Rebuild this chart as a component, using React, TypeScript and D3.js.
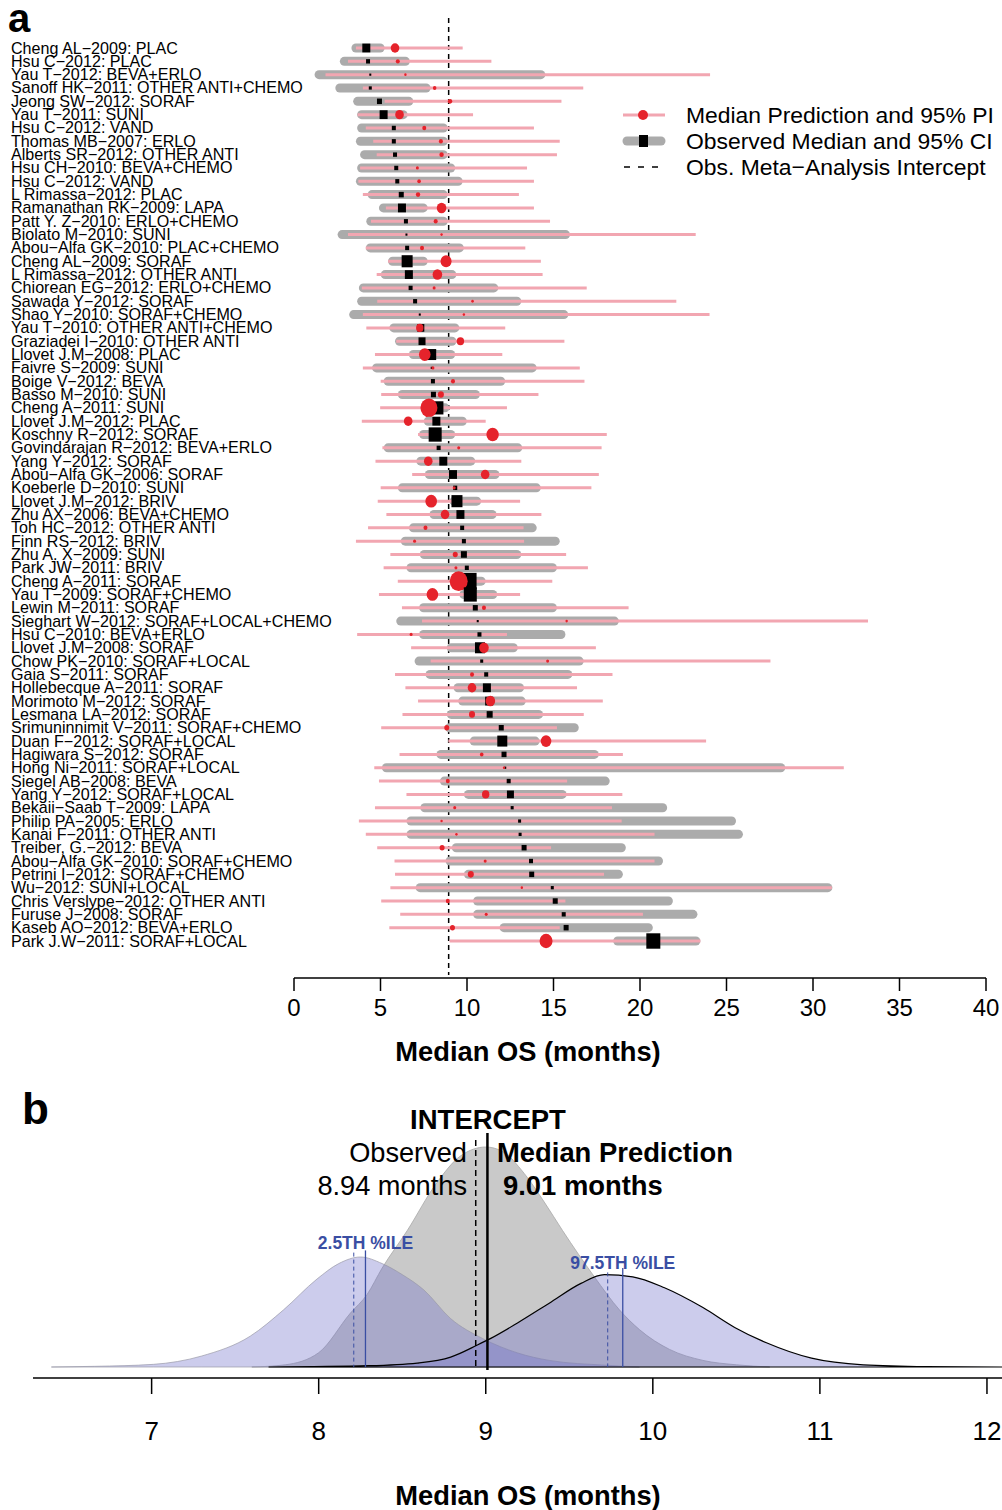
import * as d3 from "d3";

// panel a: one row per study (top to bottom)
const studies = [
  "Cheng AL−2009: PLAC", "Hsu C−2012: PLAC", "Yau T−2012: BEVA+ERLO", "Sanoff HK−2011: OTHER ANTI+CHEMO",
  "Jeong SW−2012: SORAF", "Yau T−2011: SUNI", "Hsu C−2012: VAND", "Thomas MB−2007: ERLO",
  "Alberts SR−2012: OTHER ANTI", "Hsu CH−2010: BEVA+CHEMO", "Hsu C−2012: VAND", "L Rimassa−2012: PLAC",
  "Ramanathan RK−2009: LAPA", "Patt Y. Z−2010: ERLO+CHEMO", "Biolato M−2010: SUNI", "Abou−Alfa GK−2010: PLAC+CHEMO",
  "Cheng AL−2009: SORAF", "L Rimassa−2012: OTHER ANTI", "Chiorean EG−2012: ERLO+CHEMO", "Sawada Y−2012: SORAF",
  "Shao Y−2010: SORAF+CHEMO", "Yau T−2010: OTHER ANTI+CHEMO", "Graziadei I−2010: OTHER ANTI", "Llovet J.M−2008: PLAC",
  "Faivre S−2009: SUNI", "Boige V−2012: BEVA", "Basso M−2010: SUNI", "Cheng A−2011: SUNI",
  "Llovet J.M−2012: PLAC", "Koschny R−2012: SORAF", "Govindarajan R−2012: BEVA+ERLO", "Yang Y−2012: SORAF",
  "Abou−Alfa GK−2006: SORAF", "Koeberle D−2010: SUNI", "Llovet J.M−2012: BRIV", "Zhu AX−2006: BEVA+CHEMO",
  "Toh HC−2012: OTHER ANTI", "Finn RS−2012: BRIV", "Zhu A. X−2009: SUNI", "Park JW−2011: BRIV",
  "Cheng A−2011: SORAF", "Yau T−2009: SORAF+CHEMO", "Lewin M−2011: SORAF", "Sieghart W−2012: SORAF+LOCAL+CHEMO",
  "Hsu C−2010: BEVA+ERLO", "Llovet J.M−2008: SORAF", "Chow PK−2010: SORAF+LOCAL", "Gaia S−2011: SORAF",
  "Hollebecque A−2011: SORAF", "Morimoto M−2012: SORAF", "Lesmana LA−2012: SORAF", "Srimuninnimit V−2011: SORAF+CHEMO",
  "Duan F−2012: SORAF+LOCAL", "Hagiwara S−2012: SORAF", "Hong Ni−2011: SORAF+LOCAL", "Siegel AB−2008: BEVA",
  "Yang Y−2012: SORAF+LOCAL", "Bekaii−Saab T−2009: LAPA", "Philip PA−2005: ERLO", "Kanai F−2011: OTHER ANTI",
  "Treiber, G.−2012: BEVA", "Abou−Alfa GK−2010: SORAF+CHEMO", "Petrini I−2012: SORAF+CHEMO", "Wu−2012: SUNI+LOCAL",
  "Chris Verslype−2012: OTHER ANTI", "Furuse J−2008: SORAF", "Kaseb AO−2012: BEVA+ERLO", "Park J.W−2011: SORAF+LOCAL",
];

const obsMedian = [
  4.18, 4.28, 4.41, 4.41, 4.94, 5.18, 5.77, 5.77, 5.84, 5.91, 5.97, 6.2, 6.24, 6.47, 6.5, 6.54, 6.54, 6.64,
  6.74, 7.0, 7.27, 7.33, 7.4, 7.93, 7.96, 8.03, 8.06, 8.29, 8.23, 8.16, 8.36, 8.63, 9.19, 9.32, 9.42, 9.62,
  9.72, 9.82, 9.82, 9.99, 10.12, 10.19, 10.48, 10.62, 10.72, 10.75, 10.85, 11.11, 11.15, 11.28, 11.31, 11.98,
  12.04, 12.14, 12.21, 12.41, 12.51, 12.61, 13.04, 13.07, 13.3, 13.7, 13.74, 14.93, 15.1, 15.59, 15.73, 20.77,
];
const ciLow = [
  3.32, 2.65, 1.19, 2.39, 3.42, 3.65, 3.65, 3.58, 3.82, 3.65, 3.58, 4.25, 4.91, 4.18, 2.52, 4.15, 5.44, 5.01,
  3.75, 3.65, 3.19, 5.51, 5.84, 6.64, 4.51, 5.18, 6.0, 7.4, 7.5, 7.23, 5.18, 7.07, 7.56, 6.0, 8.99, 7.83,
  6.64, 6.17, 7.27, 6.5, 9.39, 9.56, 7.23, 5.91, 7.23, 8.83, 6.97, 7.6, 9.22, 9.49, 8.83, 8.73,
  10.15, 8.23, 5.08, 8.43, 9.82, 7.3, 6.5, 6.5, 9.12, 8.76, 9.82, 7.03, 10.35, 10.35, 11.88, 18.45,
];
const ciHigh = [
  5.24, 6.7, 14.53, 7.9, 6.9, 6.57, 8.89, 8.89, 8.89, 9.32, 9.75, 8.89, 7.73, 8.89, 15.96, 9.82, 7.73, 9.39,
  11.81, 13.14, 15.86, 9.56, 9.39, 9.32, 14.03, 12.21, 10.75, 8.99, 9.99, 9.32, 13.2, 10.48, 11.88, 14.27, 10.82, 11.71,
  14.03, 15.36, 13.14, 15.2, 11.08, 11.75, 15.2, 18.78, 15.69, 12.94, 16.75, 16.09, 13.3, 13.4, 14.4, 16.46,
  14.2, 17.62, 28.4, 18.25, 15.76, 21.57, 25.55, 25.95, 19.18, 21.33, 19.01, 31.12, 21.9, 23.32, 20.74, 23.49,
];
const predMedian = [
  5.84, 6.0, 6.44, 8.13, 9.02, 6.1, 7.53, 8.49, 8.53, 7.13, 7.23, 7.17, 8.53, 8.19, 8.53, 7.4, 8.79, 8.29,
  8.1, 10.32, 9.82, 7.27, 9.62, 7.56, 8.03, 9.19, 8.49, 7.8, 6.6, 11.48, 9.52, 7.76, 11.05, 9.26, 7.93, 8.73,
  7.6, 6.97, 9.32, 9.36, 9.52, 8.0, 10.98, 15.76, 6.77, 10.98, 14.66, 10.29, 10.29, 11.35, 10.29, 8.83,
  14.57, 10.85, 12.14, 8.89, 11.08, 9.29, 8.53, 9.39, 8.56, 11.05, 10.22, 13.17, 8.89, 11.11, 9.16, 14.57,
];
const piLow = [
  3.58, 3.12, 1.82, 3.98, 5.24, 3.68, 4.15, 4.58, 4.78, 3.82, 3.72, 3.98, 5.31, 4.45, 3.12, 4.15, 5.44, 4.78,
  3.92, 4.81, 3.98, 4.18, 5.91, 4.68, 3.98, 5.01, 5.04, 4.98, 3.92, 7.17, 5.11, 4.71, 6.83, 5.01, 4.84, 5.34,
  4.28, 3.58, 5.57, 5.18, 6.0, 4.91, 6.24, 7.4, 3.65, 6.77, 7.9, 5.84, 6.44, 7.17, 6.27, 5.04,
  8.92, 6.1, 4.64, 4.91, 6.5, 4.68, 3.75, 4.15, 4.81, 5.81, 5.84, 5.57, 5.04, 6.14, 5.51, 8.99,
];
const piHigh = [
  9.75, 11.41, 24.05, 16.72, 15.46, 10.35, 13.87, 15.36, 15.2, 13.47, 13.87, 13.0, 13.87, 14.8, 23.22, 13.37, 14.27, 14.37,
  16.92, 22.1, 24.02, 12.21, 15.63, 12.04, 16.52, 16.79, 14.13, 12.31, 11.08, 18.08, 17.78, 13.14, 17.62, 17.19, 13.07, 14.3,
  13.27, 13.3, 15.73, 16.99, 14.93, 13.07, 19.34, 33.18, 12.31, 17.45, 27.54, 18.41, 16.36, 17.85, 16.75, 15.2,
  23.82, 19.01, 31.78, 15.79, 18.98, 18.38, 18.94, 20.84, 14.86, 20.84, 17.92, 31.09, 15.69, 20.17, 15.36, 23.49,
];
// study weights (marker sizes)
const obsWeight = [
  8, 4, 2, 3, 5, 8, 4, 4, 4, 4, 4, 5, 8, 4, 2, 4, 11, 8, 4, 4, 2, 7, 7, 10, 2, 4, 5, 12, 8, 13, 4, 8, 8, 4,
  11, 8, 4, 4, 6, 4, 15, 13, 5, 2, 4, 10, 3, 4, 8, 8, 6, 5, 10, 5, 2, 4, 7, 3, 3, 3, 5, 4, 5, 3, 5, 4, 5, 14,
];
const predWeight = [
  4.3, 2, 1.2, 1.8, 2.2, 4.3, 2, 2, 2.2, 1.5, 1.8, 2.2, 4.8, 2, 1.2, 2, 5.5, 4.8, 1.5, 1.3, 1.2, 3.7, 3.7, 5.8,
  1.5, 2, 3, 8.5, 4.3, 6.2, 1.5, 4.3, 4.3, 1.5, 5.8, 4.3, 2, 1.5, 2.5, 1.5, 9, 5.8, 2, 1.2, 1.5, 4.8, 1.5, 2, 4.3, 4.8,
  3, 2.5, 5.3, 1.8, 1.2, 2, 3.7, 1.5, 1.2, 1.2, 2.5, 1.5, 3, 1.2, 2, 1.5, 2.5, 6.5,
];
const metaIntercept = 8.94;
const xTicksA = [0, 5, 10, 15, 20, 25, 30, 35, 40];

// panel b: posterior densities of the intercept, [months, density]
const interceptDensity = [
  [7.6, 0], [7.8, 0.01], [8.0, 0.065], [8.19, 0.245], [8.29, 0.33], [8.38, 0.45], [8.53, 0.62], [8.7, 0.83],
  [8.85, 0.96], [9.0, 1.0], [9.1, 0.98], [9.23, 0.88], [9.35, 0.75], [9.46, 0.62], [9.65, 0.41], [9.8, 0.26],
  [9.92, 0.17], [10.1, 0.08], [10.3, 0.03], [10.5, 0.01], [10.7, 0],
];
const lowPctDensity = [
  [6.4, 0], [6.66, 0.003], [7.01, 0.012], [7.3, 0.05], [7.59, 0.14], [7.79, 0.26], [7.99, 0.4], [8.12, 0.47],
  [8.25, 0.5], [8.38, 0.47], [8.5, 0.42], [8.63, 0.35], [8.79, 0.22], [8.98, 0.13], [9.19, 0.064], [9.38, 0.03],
  [9.72, 0.008], [9.92, 0],
];
const highPctDensity = [
  [7.7, 0], [8.3, 0.006], [8.59, 0.018], [8.79, 0.045], [8.95, 0.1], [9.03, 0.13], [9.19, 0.2], [9.38, 0.29],
  [9.57, 0.38], [9.71, 0.42], [9.88, 0.41], [10.07, 0.36], [10.3, 0.27], [10.49, 0.18], [10.68, 0.11],
  [10.95, 0.04], [11.26, 0.01], [11.64, 0.002], [12.09, 0],
];
const obsInterceptB = 8.94;
const predInterceptB = 9.01;
const lowPct = { obs: 8.21, pred: 8.28 };
const highPct = { obs: 9.73, pred: 9.82 };
const xTicksB = [7, 8, 9, 10, 11, 12];

const FONT = "'Liberation Sans', Arial, Helvetica, sans-serif";
const GRAY = "#ababab";
const PINK = "#f2a6b1";
const RED = "#e5232b";
const BLUE = "#3a4ea3";
const LAVENDER = "rgba(110,110,200,0.35)";

export default function App() {
  const xa = d3.scaleLinear().domain([0, 40]).range([294, 986]);
  const ya = d3.scalePoint<number>().domain(d3.range(studies.length)).range([48, 941]);

  const xb = d3.scaleLinear().domain([6.29, 12.09]).range([33, 1002]);
  const yb = d3.scaleLinear().domain([0, 1]).range([1367, 1147]);
  const area = d3
    .area<number[]>()
    .x((d) => xb(d[0]))
    .y0(yb(0))
    .y1((d) => yb(d[1]))
    .curve(d3.curveMonotoneX);

  return (
    <svg
      width={1002}
      height={1510}
      style={{ position: "absolute", left: 0, top: 0, background: "#fff" }}
      fontFamily={FONT}
    >
      {/* panel a */}
      <text x={8} y={32} fontSize={40} fontWeight="bold">a</text>

      <line x1={xa(metaIntercept)} x2={xa(metaIntercept)} y1={18} y2={975} stroke="#000" strokeWidth={1.5} strokeDasharray="5,4" />

      {studies.map((name, i) => {
        const y = ya(i)!;
        const s = obsWeight[i];
        return (
          <g key={i}>
            <text x={11} y={y + 5.5} fontSize={16.1}>{name}</text>
            <rect x={xa(ciLow[i])} y={y - 4.5} width={xa(ciHigh[i]) - xa(ciLow[i])} height={9} rx={4.5} fill={GRAY} />
            <line x1={xa(piLow[i])} x2={xa(piHigh[i])} y1={y} y2={y} stroke={PINK} strokeWidth={3} />
            <rect x={xa(obsMedian[i]) - s / 2} y={y - s * 0.55} width={s} height={s * 1.1} fill="#000" />
            <ellipse cx={xa(predMedian[i])} cy={y} rx={predWeight[i]} ry={predWeight[i] * 1.1} fill={RED} />
          </g>
        );
      })}

      {/* legend */}
      <g fontSize={22.9}>
        <line x1={623} x2={665} y1={115} y2={115} stroke={PINK} strokeWidth={3} />
        <circle cx={643} cy={115} r={5} fill={RED} />
        <text x={686} y={123}>Median Prediction and 95% PI</text>
        <line x1={627} x2={661} y1={141} y2={141} stroke={GRAY} strokeWidth={9} strokeLinecap="round" />
        <rect x={639} y={135} width={9} height={12} fill="#000" />
        <text x={686} y={149}>Observed Median and 95% CI</text>
        <line x1={624} x2={662} y1={167} y2={167} stroke="#000" strokeWidth={1.5} strokeDasharray="6,8" />
        <text x={686} y={175}>Obs. Meta−Analysis Intercept</text>
      </g>

      {/* axis a */}
      <line x1={xa(0)} x2={xa(40)} y1={978} y2={978} stroke="#000" strokeWidth={1.5} />
      {xTicksA.map((t) => (
        <g key={t}>
          <line x1={xa(t)} x2={xa(t)} y1={978} y2={991} stroke="#000" strokeWidth={1.5} />
          <text x={xa(t)} y={1016} fontSize={24} textAnchor="middle">{t}</text>
        </g>
      ))}
      <text x={528} y={1061} fontSize={27.3} fontWeight="bold" textAnchor="middle">Median OS (months)</text>

      {/* panel b */}
      <text x={22} y={1124} fontSize={44} fontWeight="bold">b</text>

      <path d={area(interceptDensity)!} fill="#c9c9c9" stroke="#a8a8a8" strokeWidth={0.8} />
      <path d={area(lowPctDensity)!} fill={LAVENDER} stroke="#9a9aa8" strokeWidth={0.7} />
      <path d={area(highPctDensity)!} fill={LAVENDER} stroke="#000" strokeWidth={1.2} />

      <line x1={xb(lowPct.obs)} x2={xb(lowPct.obs)} y1={yb(0.52)} y2={yb(0)} stroke={BLUE} strokeWidth={1} strokeDasharray="4,3" />
      <line x1={xb(lowPct.pred)} x2={xb(lowPct.pred)} y1={yb(0.53)} y2={yb(0)} stroke={BLUE} strokeWidth={1.3} />
      <line x1={xb(highPct.obs)} x2={xb(highPct.obs)} y1={yb(0.43)} y2={yb(0)} stroke={BLUE} strokeWidth={1} strokeDasharray="4,3" />
      <line x1={xb(highPct.pred)} x2={xb(highPct.pred)} y1={yb(0.45)} y2={yb(0)} stroke={BLUE} strokeWidth={1.3} />
      <text x={xb(lowPct.pred)} y={1249} fontSize={17.5} fontWeight="bold" fill={BLUE} textAnchor="middle">2.5TH %ILE</text>
      <text x={xb(highPct.pred)} y={1269} fontSize={17.5} fontWeight="bold" fill={BLUE} textAnchor="middle">97.5TH %ILE</text>

      <line x1={xb(obsInterceptB)} x2={xb(obsInterceptB)} y1={1140} y2={1368} stroke="#000" strokeWidth={1.5} strokeDasharray="6,4" />
      <line x1={xb(predInterceptB)} x2={xb(predInterceptB)} y1={1133} y2={1370} stroke="#000" strokeWidth={2.5} />

      <text x={488} y={1129} fontSize={27.5} fontWeight="bold" textAnchor="middle">INTERCEPT</text>
      <text x={467} y={1162} fontSize={27.2} textAnchor="end">Observed</text>
      <text x={467} y={1195} fontSize={27.2} textAnchor="end">8.94 months</text>
      <text x={497} y={1162} fontSize={27.4} fontWeight="bold">Median Prediction</text>
      <text x={503} y={1195} fontSize={27.4} fontWeight="bold">9.01 months</text>

      {/* axis b */}
      <line x1={33} x2={1002} y1={1378} y2={1378} stroke="#000" strokeWidth={1.5} />
      {xTicksB.map((t) => (
        <g key={t}>
          <line x1={xb(t)} x2={xb(t)} y1={1378} y2={1394} stroke="#000" strokeWidth={1.5} />
          <text x={xb(t)} y={1440} fontSize={26} textAnchor="middle">{t}</text>
        </g>
      ))}
      <text x={528} y={1505} fontSize={27.3} fontWeight="bold" textAnchor="middle">Median OS (months)</text>
    </svg>
  );
}
